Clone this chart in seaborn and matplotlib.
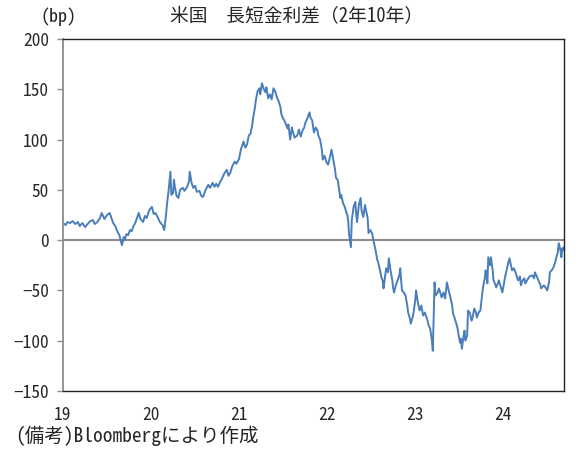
import matplotlib
matplotlib.use("Agg")
import matplotlib.pyplot as plt
import seaborn as sns
import pandas as pd

# Fractional year / spread (bp), year by year
t19 = [2019.00, 2019.03, 2019.05, 2019.08, 2019.11, 2019.14, 2019.17, 2019.19, 2019.22, 2019.25,
       2019.28, 2019.31, 2019.34, 2019.36, 2019.39, 2019.42, 2019.44, 2019.47, 2019.50, 2019.53,
       2019.55, 2019.57, 2019.60, 2019.61, 2019.64, 2019.66, 2019.67, 2019.69, 2019.70, 2019.72,
       2019.74, 2019.76, 2019.78, 2019.80, 2019.82, 2019.84, 2019.86, 2019.88, 2019.91, 2019.93,
       2019.95, 2019.98]
v19 = [17, 15, 18, 17, 19, 16, 18, 14, 17, 13,
       16, 19, 20, 16, 18, 22, 27, 21, 25, 27,
       22, 17, 13, 10, 5, -2, -5, 3, 0, 6,
       5, 10, 9, 14, 17, 22, 27, 21, 18, 24,
       22, 30]

t20 = [2020.01, 2020.03, 2020.05, 2020.08, 2020.10, 2020.13, 2020.15, 2020.17, 2020.18, 2020.20,
       2020.22, 2020.23, 2020.25, 2020.26, 2020.27, 2020.29, 2020.31, 2020.33, 2020.36, 2020.38,
       2020.41, 2020.43, 2020.44, 2020.46, 2020.48, 2020.50, 2020.52, 2020.55, 2020.57, 2020.59,
       2020.62, 2020.65, 2020.67, 2020.70, 2020.72, 2020.74, 2020.76, 2020.78, 2020.81, 2020.83,
       2020.86, 2020.88, 2020.90, 2020.92, 2020.95, 2020.97]
v20 = [33, 26, 27, 22, 18, 15, 10, 25, 35, 50,
       68, 45, 47, 60, 53, 44, 42, 50, 52, 49,
       53, 58, 68, 57, 52, 54, 48, 49, 44, 43,
       50, 55, 52, 57, 53, 56, 53, 57, 62, 66,
       70, 64, 67, 73, 78, 76]

t21 = [2021.00, 2021.02, 2021.05, 2021.07, 2021.09, 2021.11, 2021.13, 2021.15, 2021.16, 2021.18,
       2021.19, 2021.21, 2021.23, 2021.24, 2021.26, 2021.28, 2021.30, 2021.31, 2021.33, 2021.35,
       2021.37, 2021.39, 2021.41, 2021.43, 2021.45, 2021.47, 2021.48, 2021.50, 2021.52, 2021.55,
       2021.56, 2021.58, 2021.60, 2021.61, 2021.63, 2021.66, 2021.68, 2021.70, 2021.72, 2021.74,
       2021.75, 2021.77, 2021.80, 2021.81, 2021.83, 2021.85, 2021.87, 2021.89, 2021.90, 2021.92,
       2021.94, 2021.95, 2021.97, 2021.99]
v21 = [81, 90, 98, 92, 95, 104, 106, 115, 122, 132,
       139, 148, 151, 145, 156, 150, 147, 152, 141, 145,
       140, 151, 148, 142, 138, 132, 125, 121, 118, 111,
       115, 100, 112, 108, 102, 104, 110, 103, 109, 112,
       116, 120, 127, 122, 119, 107, 112, 109, 104, 100,
       90, 80, 84, 78]

t22 = [2022.01, 2022.03, 2022.05, 2022.07, 2022.09, 2022.10, 2022.12, 2022.15, 2022.16, 2022.18,
       2022.20, 2022.22, 2022.23, 2022.24, 2022.25, 2022.27, 2022.28, 2022.30, 2022.32, 2022.33,
       2022.34, 2022.36, 2022.38, 2022.39, 2022.41, 2022.43, 2022.44, 2022.46, 2022.47, 2022.49,
       2022.51, 2022.53, 2022.55, 2022.57, 2022.58, 2022.60, 2022.62, 2022.63, 2022.64, 2022.66,
       2022.67, 2022.69, 2022.70, 2022.72, 2022.74, 2022.75, 2022.76, 2022.78, 2022.80, 2022.82,
       2022.83, 2022.84, 2022.85, 2022.87, 2022.89, 2022.91, 2022.92, 2022.94, 2022.95, 2022.97,
       2022.98]
v22 = [75, 82, 90, 80, 70, 62, 60, 42, 45, 37,
       33, 27, 25, 18, 5, -7, 20, 33, 38, 25,
       18, 35, 42, 30, 23, 35, 30, 22, 7, 10,
       7, -2, -10, -20, -22, -30, -38, -40, -48, -35,
       -28, -32, -18, -30, -40, -48, -52, -45, -40, -35,
       -28, -40, -50, -52, -55, -65, -72, -78, -83, -77,
       -73]

t23 = [2023.00, 2023.01, 2023.03, 2023.05, 2023.07, 2023.09, 2023.11, 2023.14, 2023.15, 2023.17,
       2023.19, 2023.20, 2023.21, 2023.22, 2023.23, 2023.25, 2023.27, 2023.30, 2023.32, 2023.34,
       2023.35, 2023.36, 2023.38, 2023.40, 2023.42, 2023.43, 2023.45, 2023.48, 2023.49, 2023.51,
       2023.52, 2023.53, 2023.55, 2023.56, 2023.57, 2023.59, 2023.60, 2023.62, 2023.64, 2023.65,
       2023.67, 2023.69, 2023.70, 2023.72, 2023.74, 2023.76, 2023.77, 2023.79, 2023.80, 2023.81,
       2023.82, 2023.83, 2023.85, 2023.86, 2023.88, 2023.89, 2023.91, 2023.92, 2023.94, 2023.95,
       2023.97, 2023.99]
v23 = [-60, -50, -62, -70, -65, -75, -72, -80, -84, -88,
       -100, -110, -75, -42, -55, -53, -48, -57, -52, -58,
       -50, -42, -50, -57, -65, -73, -78, -87, -93, -102,
       -98, -108, -95, -90, -100, -95, -70, -72, -80, -78,
       -68, -72, -77, -72, -70, -55, -47, -38, -30, -36,
       -43, -17, -25, -17, -30, -40, -44, -47, -43, -40,
       -46, -52]

t24 = [2024.01, 2024.02, 2024.05, 2024.07, 2024.09, 2024.10, 2024.12, 2024.14, 2024.16, 2024.17,
       2024.19, 2024.20, 2024.22, 2024.24, 2024.25, 2024.27, 2024.30, 2024.33, 2024.35, 2024.36,
       2024.38, 2024.40, 2024.42, 2024.43, 2024.46, 2024.48, 2024.50, 2024.52, 2024.53, 2024.55,
       2024.57, 2024.59, 2024.60, 2024.62, 2024.63, 2024.65, 2024.66, 2024.67, 2024.68, 2024.69]
v24 = [-42, -37, -25, -18, -26, -30, -28, -32, -38, -40,
       -36, -45, -40, -38, -43, -40, -36, -35, -38, -32,
       -36, -40, -44, -48, -45, -47, -50, -42, -32, -30,
       -27, -22, -18, -12, -3, -10, -17, -8, -10, -7]

x_ticks = [2019, 2020, 2021, 2022, 2023, 2024]
x_tick_labels = ["19", "20", "21", "22", "23", "24"]
y_ticks = [-150, -100, -50, 0, 50, 100, 150, 200]

years = t19 + t20 + t21 + t22 + t23 + t24
spread_bp = v19 + v20 + v21 + v22 + v23 + v24
assert len(years) == len(spread_bp)
df = pd.DataFrame({"year": years, "spread": spread_bp})

sns.set_style("white")
mono = ["Noto Sans Mono CJK JP", "Noto Sans CJK JP", "DejaVu Sans"]
plt.rcParams["font.family"] = mono

fig = plt.figure(figsize=(5.82, 4.62), dpi=100)
ax = fig.add_axes([63 / 582, 71 / 462, (564 - 63) / 582, (391 - 39) / 462])

ax.axhline(0, color="#8c8c8c", lw=1.5, zorder=1)
sns.lineplot(data=df, x="year", y="spread", ax=ax, color="#4a7ebb", lw=1.4, zorder=2)

ax.set_xlim(2019.0, 2024.69)
ax.set_ylim(-150, 200)
ax.set_xticks(x_ticks)
ax.set_xticklabels(x_tick_labels)
ax.set_yticks(y_ticks)
ax.set_yticklabels([str(v) if v >= 0 else "\u2212" + str(-v) for v in y_ticks])
ax.tick_params(axis="y", length=4, width=1, color="#8c8c8c", labelsize=12.5, pad=6, direction="out", left=True)
ax.tick_params(axis="x", length=0, labelsize=12.5, pad=11)
ax.set_xlabel("")
ax.set_ylabel("")

ax.spines["left"].set_color("#8c8c8c")
ax.spines["left"].set_linewidth(1.3)
for side in ["top", "right", "bottom"]:
    ax.spines[side].set_color("#222222")
    ax.spines[side].set_linewidth(1.0)

fig.text(58 / 582, 1 - 17 / 462, "(bp)", ha="center", va="center", fontsize=13)
fig.text(297 / 582, 1 - 17 / 462, "米国　長短金利差（2年10年）", ha="center", va="center", fontsize=13.5)
fig.text(15 / 582, 1 - 436 / 462, "(備考)Bloombergにより作成", ha="left", va="center", fontsize=14)

fig.savefig("out.png", dpi=100)
